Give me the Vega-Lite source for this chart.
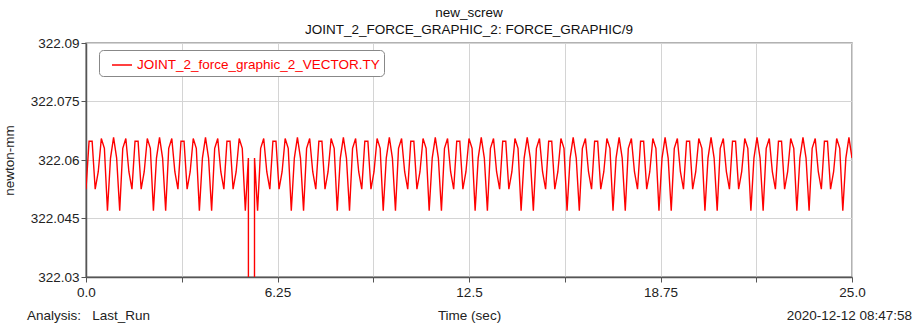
{
  "$schema": "https://vega.github.io/schema/vega-lite/v6.json",
  "width": 766,
  "height": 234,
  "autosize": {"type": "none"},
  "padding": {"left": 86, "top": 43, "right": 69, "bottom": 49},
  "background": "white",
  "config": {
    "font": "Liberation Sans",
    "view": {"stroke": "#999999", "strokeWidth": 1.5},
    "axis": {
      "labelFont": "Liberation Sans", "titleFont": "Liberation Sans",
      "labelFontSize": 13.5, "titleFontSize": 13.5, "titleFontWeight": "normal",
      "labelColor": "#222222", "titleColor": "#222222",
      "domainColor": "#555555", "domainWidth": 1.5,
      "tickColor": "#555555", "tickSize": 5, "tickWidth": 1,
      "gridColor": "#d4d4d4", "gridWidth": 1
    }
  },
  "title": {
    "text": ["new_screw", "JOINT_2_FORCE_GRAPHIC_2: FORCE_GRAPHIC/9"],
    "font": "Liberation Sans", "fontSize": 13.5, "fontWeight": "normal",
    "color": "#111111", "anchor": "middle", "lineHeight": 17, "offset": 0
  },
  "layer": [
    {
      "data": {"values": [
        {"t":0.0,"v":322.0525},{"t":0.1,"v":322.0648},{"t":0.2,"v":322.0648},{"t":0.3,"v":322.0525},{"t":0.4,"v":322.057},{"t":0.5,"v":322.0655},{"t":0.6,"v":322.063},{"t":0.7,"v":322.047},{"t":0.8,"v":322.0605},{"t":0.9,"v":322.0658},{"t":1.0,"v":322.0605},{"t":1.1,"v":322.047},{"t":1.2,"v":322.063},{"t":1.3,"v":322.0655},{"t":1.4,"v":322.057},
        {"t":1.5,"v":322.0525},{"t":1.6,"v":322.0648},{"t":1.7,"v":322.0648},{"t":1.8,"v":322.0525},{"t":1.9,"v":322.057},{"t":2.0,"v":322.0655},{"t":2.1,"v":322.063},{"t":2.2,"v":322.047},{"t":2.3,"v":322.0605},{"t":2.4,"v":322.0658},{"t":2.5,"v":322.0605},{"t":2.6,"v":322.047},{"t":2.7,"v":322.063},{"t":2.8,"v":322.0655},{"t":2.9,"v":322.057},
        {"t":3.0,"v":322.0525},{"t":3.1,"v":322.0648},{"t":3.2,"v":322.0648},{"t":3.3,"v":322.0525},{"t":3.4,"v":322.057},{"t":3.5,"v":322.0655},{"t":3.6,"v":322.063},{"t":3.7,"v":322.047},{"t":3.8,"v":322.0605},{"t":3.9,"v":322.0658},{"t":4.0,"v":322.0605},{"t":4.1,"v":322.047},{"t":4.2,"v":322.063},{"t":4.3,"v":322.0655},{"t":4.4,"v":322.057},
        {"t":4.5,"v":322.0525},{"t":4.6,"v":322.0648},{"t":4.7,"v":322.0648},{"t":4.8,"v":322.0525},{"t":4.9,"v":322.057},{"t":5.0,"v":322.0655},{"t":5.1,"v":322.063},{"t":5.2,"v":322.047},{"t":5.3,"v":322.0605},{"t":5.4,"v":318.0},{"t":5.5,"v":322.0605},{"t":5.6,"v":322.047},{"t":5.7,"v":322.063},{"t":5.8,"v":322.0655},{"t":5.9,"v":322.057},
        {"t":6.0,"v":322.0525},{"t":6.1,"v":322.0648},{"t":6.2,"v":322.0648},{"t":6.3,"v":322.0525},{"t":6.4,"v":322.057},{"t":6.5,"v":322.0655},{"t":6.6,"v":322.063},{"t":6.7,"v":322.047},{"t":6.8,"v":322.0605},{"t":6.9,"v":322.0658},{"t":7.0,"v":322.0605},{"t":7.1,"v":322.047},{"t":7.2,"v":322.063},{"t":7.3,"v":322.0655},{"t":7.4,"v":322.057},
        {"t":7.5,"v":322.0525},{"t":7.6,"v":322.0648},{"t":7.7,"v":322.0648},{"t":7.8,"v":322.0525},{"t":7.9,"v":322.057},{"t":8.0,"v":322.0655},{"t":8.1,"v":322.063},{"t":8.2,"v":322.047},{"t":8.3,"v":322.0605},{"t":8.4,"v":322.0658},{"t":8.5,"v":322.0605},{"t":8.6,"v":322.047},{"t":8.7,"v":322.063},{"t":8.8,"v":322.0655},{"t":8.9,"v":322.057},
        {"t":9.0,"v":322.0525},{"t":9.1,"v":322.0648},{"t":9.2,"v":322.0648},{"t":9.3,"v":322.0525},{"t":9.4,"v":322.057},{"t":9.5,"v":322.0655},{"t":9.6,"v":322.063},{"t":9.7,"v":322.047},{"t":9.8,"v":322.0605},{"t":9.9,"v":322.0658},{"t":10.0,"v":322.0605},{"t":10.1,"v":322.047},{"t":10.2,"v":322.063},{"t":10.3,"v":322.0655},{"t":10.4,"v":322.057},
        {"t":10.5,"v":322.0525},{"t":10.6,"v":322.0648},{"t":10.7,"v":322.0648},{"t":10.8,"v":322.0525},{"t":10.9,"v":322.057},{"t":11.0,"v":322.0655},{"t":11.1,"v":322.063},{"t":11.2,"v":322.047},{"t":11.3,"v":322.0605},{"t":11.4,"v":322.0658},{"t":11.5,"v":322.0605},{"t":11.6,"v":322.047},{"t":11.7,"v":322.063},{"t":11.8,"v":322.0655},{"t":11.9,"v":322.057},
        {"t":12.0,"v":322.0525},{"t":12.1,"v":322.0648},{"t":12.2,"v":322.0648},{"t":12.3,"v":322.0525},{"t":12.4,"v":322.057},{"t":12.5,"v":322.0655},{"t":12.6,"v":322.063},{"t":12.7,"v":322.047},{"t":12.8,"v":322.0605},{"t":12.9,"v":322.0658},{"t":13.0,"v":322.0605},{"t":13.1,"v":322.047},{"t":13.2,"v":322.063},{"t":13.3,"v":322.0655},{"t":13.4,"v":322.057},
        {"t":13.5,"v":322.0525},{"t":13.6,"v":322.0648},{"t":13.7,"v":322.0648},{"t":13.8,"v":322.0525},{"t":13.9,"v":322.057},{"t":14.0,"v":322.0655},{"t":14.1,"v":322.063},{"t":14.2,"v":322.047},{"t":14.3,"v":322.0605},{"t":14.4,"v":322.0658},{"t":14.5,"v":322.0605},{"t":14.6,"v":322.047},{"t":14.7,"v":322.063},{"t":14.8,"v":322.0655},{"t":14.9,"v":322.057},
        {"t":15.0,"v":322.0525},{"t":15.1,"v":322.0648},{"t":15.2,"v":322.0648},{"t":15.3,"v":322.0525},{"t":15.4,"v":322.057},{"t":15.5,"v":322.0655},{"t":15.6,"v":322.063},{"t":15.7,"v":322.047},{"t":15.8,"v":322.0605},{"t":15.9,"v":322.0658},{"t":16.0,"v":322.0605},{"t":16.1,"v":322.047},{"t":16.2,"v":322.063},{"t":16.3,"v":322.0655},{"t":16.4,"v":322.057},
        {"t":16.5,"v":322.0525},{"t":16.6,"v":322.0648},{"t":16.7,"v":322.0648},{"t":16.8,"v":322.0525},{"t":16.9,"v":322.057},{"t":17.0,"v":322.0655},{"t":17.1,"v":322.063},{"t":17.2,"v":322.047},{"t":17.3,"v":322.0605},{"t":17.4,"v":322.0658},{"t":17.5,"v":322.0605},{"t":17.6,"v":322.047},{"t":17.7,"v":322.063},{"t":17.8,"v":322.0655},{"t":17.9,"v":322.057},
        {"t":18.0,"v":322.0525},{"t":18.1,"v":322.0648},{"t":18.2,"v":322.0648},{"t":18.3,"v":322.0525},{"t":18.4,"v":322.057},{"t":18.5,"v":322.0655},{"t":18.6,"v":322.063},{"t":18.7,"v":322.047},{"t":18.8,"v":322.0605},{"t":18.9,"v":322.0658},{"t":19.0,"v":322.0605},{"t":19.1,"v":322.047},{"t":19.2,"v":322.063},{"t":19.3,"v":322.0655},{"t":19.4,"v":322.057},
        {"t":19.5,"v":322.0525},{"t":19.6,"v":322.0648},{"t":19.7,"v":322.0648},{"t":19.8,"v":322.0525},{"t":19.9,"v":322.057},{"t":20.0,"v":322.0655},{"t":20.1,"v":322.063},{"t":20.2,"v":322.047},{"t":20.3,"v":322.0605},{"t":20.4,"v":322.0658},{"t":20.5,"v":322.0605},{"t":20.6,"v":322.047},{"t":20.7,"v":322.063},{"t":20.8,"v":322.0655},{"t":20.9,"v":322.057},
        {"t":21.0,"v":322.0525},{"t":21.1,"v":322.0648},{"t":21.2,"v":322.0648},{"t":21.3,"v":322.0525},{"t":21.4,"v":322.057},{"t":21.5,"v":322.0655},{"t":21.6,"v":322.063},{"t":21.7,"v":322.047},{"t":21.8,"v":322.0605},{"t":21.9,"v":322.0658},{"t":22.0,"v":322.0605},{"t":22.1,"v":322.047},{"t":22.2,"v":322.063},{"t":22.3,"v":322.0655},{"t":22.4,"v":322.057},
        {"t":22.5,"v":322.0525},{"t":22.6,"v":322.0648},{"t":22.7,"v":322.0648},{"t":22.8,"v":322.0525},{"t":22.9,"v":322.057},{"t":23.0,"v":322.0655},{"t":23.1,"v":322.063},{"t":23.2,"v":322.047},{"t":23.3,"v":322.0605},{"t":23.4,"v":322.0658},{"t":23.5,"v":322.0605},{"t":23.6,"v":322.047},{"t":23.7,"v":322.063},{"t":23.8,"v":322.0655},{"t":23.9,"v":322.057},
        {"t":24.0,"v":322.0525},{"t":24.1,"v":322.0648},{"t":24.2,"v":322.0648},{"t":24.3,"v":322.0525},{"t":24.4,"v":322.057},{"t":24.5,"v":322.0655},{"t":24.6,"v":322.063},{"t":24.7,"v":322.047},{"t":24.8,"v":322.0605},{"t":24.9,"v":322.0658},{"t":25.0,"v":322.0605}
      ]},
      "mark": {"type": "line", "clip": true, "strokeWidth": 1.4, "interpolate": "linear"},
      "encoding": {
        "x": {
          "field": "t", "type": "quantitative",
          "scale": {"domain": [0, 25], "nice": false, "zero": false},
          "axis": {
            "title": "Time (sec)",
            "values": [0, 3.125, 6.25, 9.375, 12.5, 15.625, 18.75, 21.875, 25],
            "labelExpr": "datum.value == 0 ? '0.0' : datum.value == 25 ? '25.0' : (round(datum.value / 3.125) % 2 == 0 ? format(datum.value, '~g') : '')",
            "labelFlush": false, "labelOverlap": false,
            "labelPadding": 3, "titlePadding": 10
          }
        },
        "y": {
          "field": "v", "type": "quantitative",
          "scale": {"domain": [322.03, 322.09], "nice": false, "zero": false},
          "axis": {
            "title": "newton-mm",
            "values": [322.03, 322.0375, 322.045, 322.0525, 322.06, 322.0675, 322.075, 322.0825, 322.09],
            "labelExpr": "round((datum.value - 322.03) / 0.0075) % 2 == 0 ? format(datum.value, '.3~f') : ''",
            "labelOverlap": false, "labelFlush": false,
            "labelPadding": 2, "titlePadding": 14
          }
        },
        "color": {
          "datum": "JOINT_2_force_graphic_2_VECTOR.TY", "type": "nominal",
          "scale": {"domain": ["JOINT_2_force_graphic_2_VECTOR.TY"], "range": ["#ff0000"]},
          "legend": {
            "title": null, "orient": "none", "legendX": 13, "legendY": 7,
            "strokeColor": "#888888", "fillColor": "white", "cornerRadius": 4,
            "padding": 4, "symbolType": "stroke", "symbolSize": 400,
            "symbolStrokeWidth": 1.5, "symbolOffset": 8, "labelOffset": 4,
            "labelLimit": 500,
            "labelColor": "#ff0000", "labelFontSize": 13.5, "labelFont": "Liberation Sans"
          }
        }
      }
    },
    {
      "data": {"values": [{"label": "Analysis:\u00a0\u00a0\u00a0Last_Run"}]},
      "mark": {"type": "text", "align": "left", "baseline": "middle", "fontSize": 13.5, "font": "Liberation Sans", "color": "#222222"},
      "encoding": {
        "text": {"field": "label"},
        "x": {"datum": -1.926, "type": "quantitative"},
        "y": {"datum": 322.02, "type": "quantitative"}
      }
    },
    {
      "data": {"values": [{"label": "2020-12-12 08:47:58"}]},
      "mark": {"type": "text", "align": "right", "baseline": "middle", "fontSize": 13.5, "font": "Liberation Sans", "color": "#222222"},
      "encoding": {
        "text": {"field": "label"},
        "x": {"datum": 26.96, "type": "quantitative"},
        "y": {"datum": 322.02, "type": "quantitative"}
      }
    }
  ]
}
